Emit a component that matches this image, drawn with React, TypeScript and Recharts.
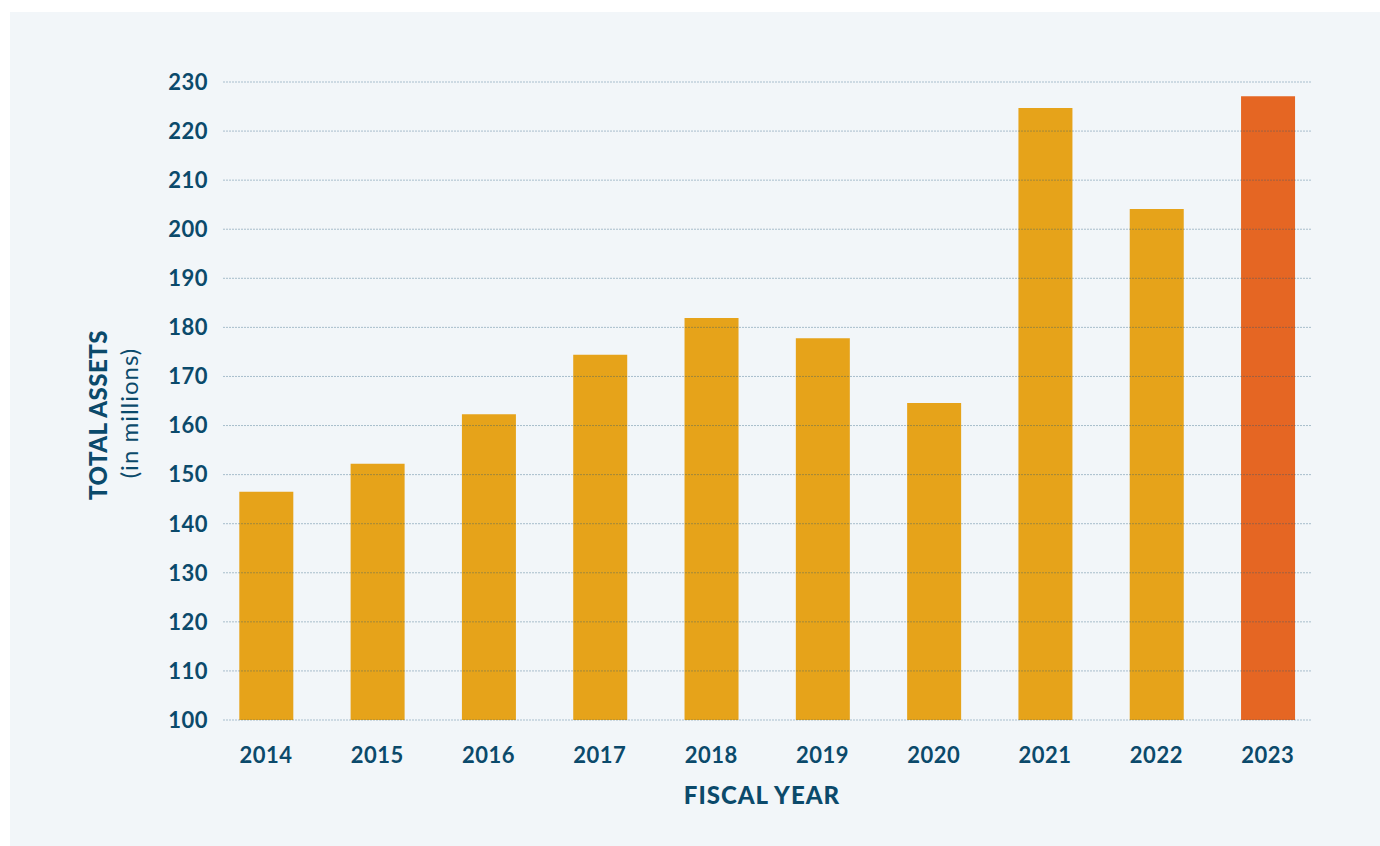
import { BarChart, Bar, XAxis, YAxis, Cell, ReferenceLine } from "recharts";

// Total assets by fiscal year, in millions
const years = [2014, 2015, 2016, 2017, 2018, 2019, 2020, 2021, 2022, 2023];
const totalAssets = [146.5, 152.2, 162.3, 174.4, 181.9, 177.8, 164.6, 224.7, 204.1, 227.1];
const yTicks = [100, 110, 120, 130, 140, 150, 160, 170, 180, 190, 200, 210, 220, 230];

const highlightYear = 2023;

const data = years.map((year, i) => ({ year, value: totalAssets[i] }));

const TEXT = "#0b4a6b";
const FONT = "Lato, 'Open Sans', sans-serif";

export default function App() {
  const tickStyle = { fill: TEXT, fontSize: 22, fontWeight: 700, fontFamily: FONT, letterSpacing: 0.5 };

  return (
    <div style={{ position: "absolute", left: 0, top: 0, width: 1380, height: 846, background: "#ffffff" }}>
      {/* light panel behind the chart */}
      <div
        style={{
          position: "absolute",
          left: 10,
          top: 12,
          width: 1370,
          height: 834,
          background: "#f2f6f9",
        }}
      />

      <div style={{ position: "absolute", left: 0, top: 0 }}>
        <BarChart
          width={1380}
          height={846}
          data={data}
          margin={{ top: 82, right: 68, bottom: 86, left: 163 }}
        >
          <XAxis
            dataKey="year"
            type="number"
            domain={[2013.614, 2023.398]}
            ticks={years}
            allowDataOverflow
            axisLine={false}
            tickLine={false}
            tickSize={0}
            tickMargin={27}
            height={40}
            tick={tickStyle}
          />
          <YAxis
            domain={[100, 230]}
            ticks={yTicks}
            allowDataOverflow
            axisLine={false}
            tickLine={false}
            tickSize={0}
            tickMargin={15}
            width={60}
            tick={tickStyle}
          />
          <Bar dataKey="value" barSize={54} isAnimationActive={false}>
            {data.map((d) => (
              <Cell key={d.year} fill={d.year === highlightYear ? "#e56623" : "#e6a31a"} />
            ))}
          </Bar>
          {/* grid lines drawn over the bars, as in the original */}
          {yTicks.map((t) => (
            <ReferenceLine
              key={t}
              y={t}
              stroke="#1f5578"
              strokeOpacity={0.35}
              strokeWidth={1}
              strokeDasharray="2 1"
            />
          ))}
        </BarChart>
      </div>

      {/* axis titles */}
      <div
        style={{
          position: "absolute",
          left: 98,
          top: 415,
          transform: "translate(-50%, -50%) rotate(-90deg)",
          whiteSpace: "nowrap",
          color: TEXT,
          fontFamily: FONT,
          fontSize: 24,
          fontWeight: 900,
          letterSpacing: 0.5,
          lineHeight: 1,
        }}
      >
        TOTAL ASSETS
      </div>
      <div
        style={{
          position: "absolute",
          left: 129,
          top: 413,
          transform: "translate(-50%, -50%) rotate(-90deg)",
          whiteSpace: "nowrap",
          color: TEXT,
          fontFamily: FONT,
          fontSize: 24,
          fontWeight: 400,
          letterSpacing: 1,
          lineHeight: 1,
        }}
      >
        (in millions)
      </div>
      <div
        style={{
          position: "absolute",
          left: 762,
          top: 795,
          transform: "translate(-50%, -50%)",
          whiteSpace: "nowrap",
          color: TEXT,
          fontFamily: FONT,
          fontSize: 24,
          fontWeight: 900,
          letterSpacing: 1,
          lineHeight: 1,
        }}
      >
        FISCAL YEAR
      </div>
    </div>
  );
}
